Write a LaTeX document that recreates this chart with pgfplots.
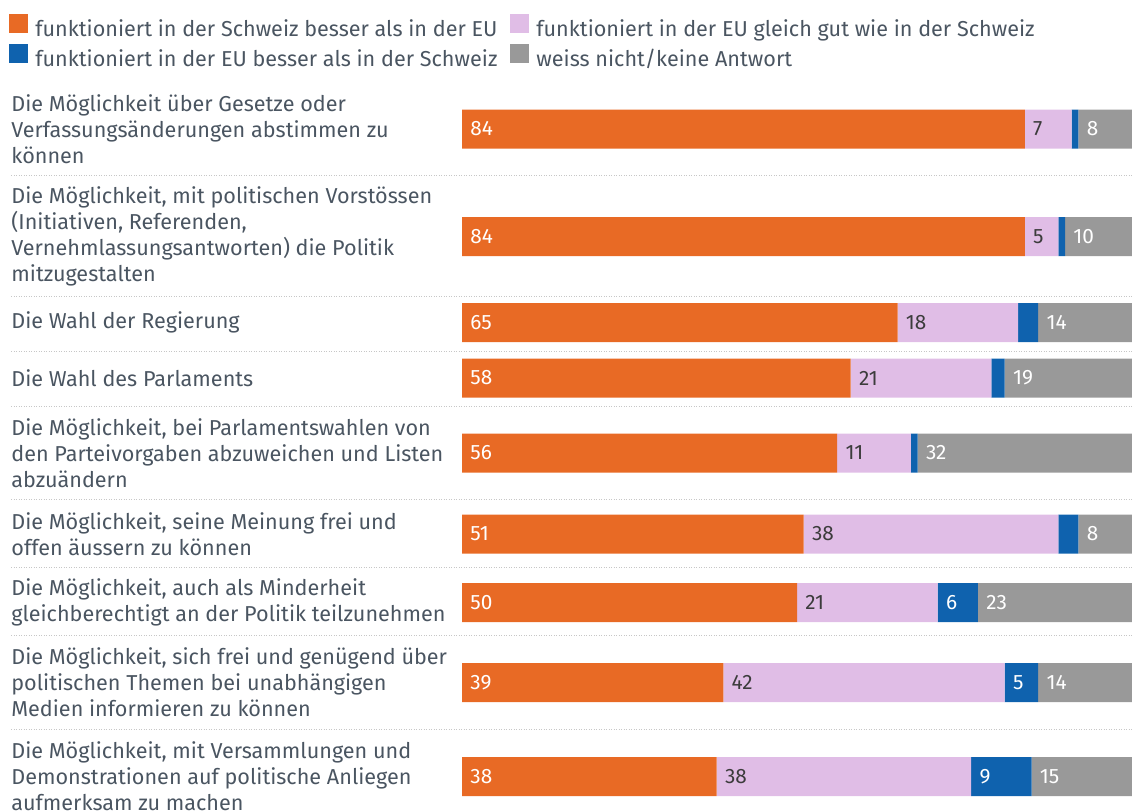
\documentclass[border=0pt]{standalone}
\usepackage{fontspec}
\setmainfont{Fira Sans}
\usepackage{pgfplots}
\usepackage{pgfplotstable}
\pgfplotsset{compat=1.18}
\definecolor{cOr}{HTML}{E86A25}
\definecolor{cPi}{HTML}{E0BDE6}
\definecolor{cBl}{HTML}{0F62AE}
\definecolor{cGr}{HTML}{999999}
\definecolor{cText}{HTML}{4A5561}
\definecolor{cDark}{HTML}{3C3C3C}
\newcommand\lbl{\fontsize{10.8}{13}\selectfont}
\newcommand\vlbl{\fontsize{10.4}{12}\selectfont}

\pgfplotstableread{
y A B C D
129 84 7 1 8
236.5 84 5 1 10
322.5 65 18 3 14
378 58 21 2 19
453 56 11 1 32
534 51 38 3 8
602.5 50 21 6 23
682.5 39 42 5 14
776.5 38 38 9 15
}\data
\pgfplotstablecreatecol[create col/expr={0}]{sA}\data
\pgfplotstablecreatecol[create col/expr={\thisrow{A}}]{sB}\data
\pgfplotstablecreatecol[create col/expr={\thisrow{A}+\thisrow{B}}]{sC}\data
\pgfplotstablecreatecol[create col/expr={\thisrow{A}+\thisrow{B}+\thisrow{C}}]{sD}\data

\pgfplotsset{common/.style={
  scale only axis, width=566pt, height=405.5pt,
  xmin=-68.9552, xmax=100, ymin=0, ymax=811, y dir=reverse,
  axis line style={draw=none}, xtick=\empty, clip=false,
  major tick length=0pt}}

\begin{document}
\begin{tikzpicture}
\begin{axis}[common, name=ax,
  xbar stacked, bar width=39,
  ytick={129,236.5,322.5,378,453,534,602.5,682.5,776.5},
  yticklabels={
    {Die Möglichkeit über Gesetze oder\\Verfassungsänderungen abstimmen zu\\können},
    {Die Möglichkeit, mit politischen Vorstössen\\(Initiativen, Referenden,\\Vernehmlassungsantworten) die Politik\\mitzugestalten},
    {Die Wahl der Regierung},
    {Die Wahl des Parlaments},
    {Die Möglichkeit, bei Parlamentswahlen von\\den Parteivorgaben abzuweichen und Listen\\abzuändern},
    {Die Möglichkeit, seine Meinung frei und\\offen äussern zu können},
    {Die Möglichkeit, auch als Minderheit\\gleichberechtigt an der Politik teilzunehmen},
    {Die Möglichkeit, sich frei und genügend über\\politischen Themen bei unabhängigen\\Medien informieren zu können},
    {Die Möglichkeit, mit Versammlungen und\\Demonstrationen auf politische Anliegen\\aufmerksam zu machen}},
  yticklabel style={anchor=west, align=left, inner sep=0pt, xshift=5.5pt,
    font=\lbl, text=cText},
  legend columns=2,
  legend cell align=left,
  legend image code/.code={\fill[#1] (0pt,-1pt) rectangle (9.5pt,8.5pt);},
  legend style={at={(axis cs:-68.9552,0)}, anchor=north west,
    xshift=4.5pt, yshift=-7pt, draw=none, fill=none, inner sep=0pt,
    font=\lbl, text=cText, row sep=1.5pt,
    nodes={inner sep=0pt, text height=7.5pt, text depth=2pt},
    /tikz/every odd column/.append style={column sep=3.5pt},
    /tikz/every even column/.append style={column sep=6.5pt}},
]
\addplot[fill=cOr, draw=none] table[x=A, y=y] {\data};
\addlegendentry{funktioniert in der Schweiz besser als in der EU}
\addplot[fill=cPi, draw=none] table[x=B, y=y] {\data};
\addlegendentry{funktioniert in der EU gleich gut wie in der Schweiz}
\addplot[fill=cBl, draw=none] table[x=C, y=y] {\data};
\addlegendentry{funktioniert in der EU besser als in der Schweiz}
\addplot[fill=cGr, draw=none] table[x=D, y=y] {\data};
\addlegendentry{weiss nicht/keine Antwort}
\pgfplotsinvokeforeach{175,296,351,406,499,567,635,729}{
  \draw[black!22, line width=0.5pt, dash pattern=on 0.5pt off 0.75pt]
    (axis cs:-67.31,#1) -- (axis cs:100,#1);
}
\end{axis}
\begin{axis}[common, hide axis, ytick=\empty,
  every node near coord/.append style={anchor=west, inner sep=0pt, xshift=4pt, font=\vlbl}]
\addplot[draw=none, mark=none, nodes near coords, point meta=explicit symbolic,
  nodes near coords style={text=white}] table[x=sA, y=y, meta=A] {\data};
\addplot[draw=none, mark=none, nodes near coords, point meta=explicit symbolic,
  nodes near coords style={text=cDark}] table[x=sB, y=y, meta=B] {\data};
\addplot[draw=none, mark=none, nodes near coords, point meta=explicit symbolic,
  skip coords between index={0}{6},
  nodes near coords style={text=white}] table[x=sC, y=y, meta=C] {\data};
\addplot[draw=none, mark=none, nodes near coords, point meta=explicit symbolic,
  nodes near coords style={text=white}] table[x=sD, y=y, meta=D] {\data};
\end{axis}
\pgfresetboundingbox
\path (ax.south west) rectangle (ax.north east);
\end{tikzpicture}
\end{document}
